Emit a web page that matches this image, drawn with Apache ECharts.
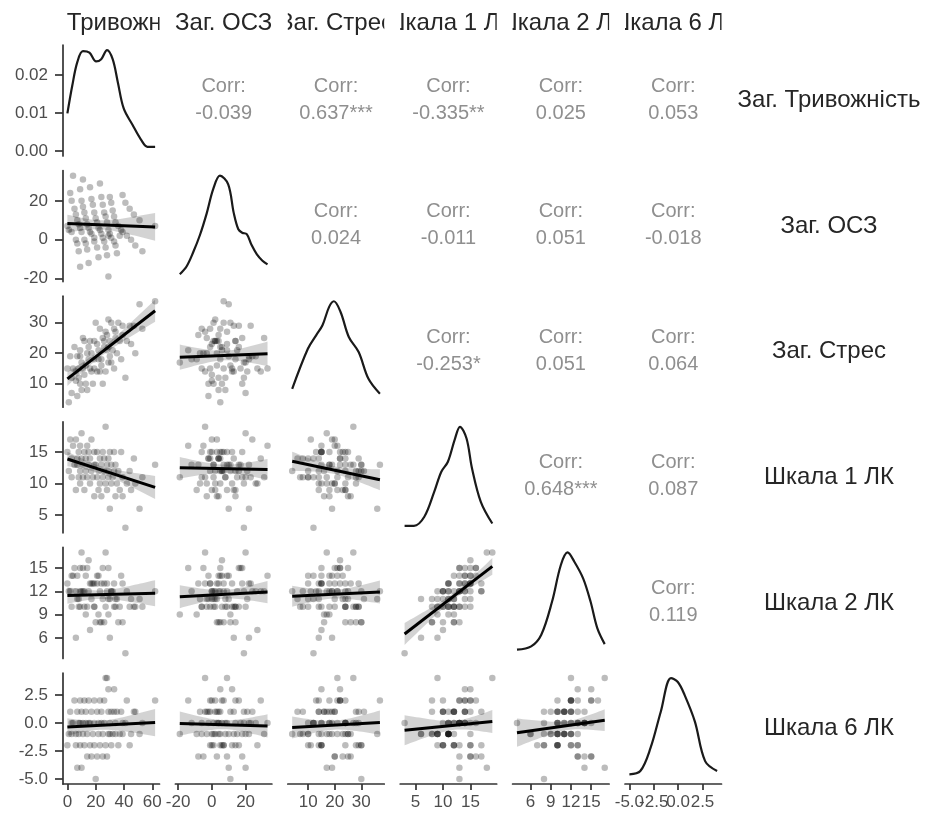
<!DOCTYPE html>
<html>
<head>
<meta charset="utf-8">
<script src="https://cdn.jsdelivr.net/npm/echarts@6.0.0/dist/echarts.min.js"></script>
<style>
html, body { margin: 0; padding: 0; background: #fff; }
#chart { width: 929px; height: 814px; }
</style>
</head>
<body>
<div id="chart"></div>
<script>
;(function () {
    "use strict";

    var labels = ["Заг. Тривожність", "Заг. ОСЗ", "Заг. Стрес", "Шкала 1 ЛК", "Шкала 2 ЛК", "Шкала 6 ЛК"];

    // one row per respondent
    var anxiety = [0,1,2,3,3,4,5,6,6,7,7,8,8,9,9,9,10,10,11,11,12,12,13,13,14,14,15,15,16,16,17,17,18,19,19,19,20,21,21,22,22,23,23,24,24,25,25,26,26,27,27,28,28,29,29,29,30,30,31,31,32,33,33,34,34,35,36,37,38,39,39,41,42,44,45,47,48,51,53,62];
    var osz = [7,5,24,4,20,33,16,0,13,-2,10,-6,8,-14,6,26,4,20,31,17,0,14,-2,11,-5,8,-12,6,27,4,21,3,18,1,14,-1,11,-4,9,-9,6,29,5,22,3,18,1,14,-1,12,-4,9,-8,-19,2,5,22,3,19,1,15,-1,12,-3,9,-7,7,2,5,23,4,19,2,16,0,13,-3,10,-6,7];
    var stress = [15,4,19,12,7,15,22,11,14,6,19,15,12,21,10,19,8,17,25,15,13,24,10,16,20,8,18,22,15,24,14,20,10,24,18,15,30,14,23,18,21,14,28,18,16,25,10,24,22,14,27,21,26,17,31,22,19,24,17,30,21,28,15,25,27,20,30,24,18,29,26,12,24,29,23,29,20,36,28,37];
    var scale1 = [15,12,17,14,11,16,13,17,9,14,13,15,11,16,12,10,14,18,11,13,15,9,14,12,16,11,13,15,10,14,12,17,11,13,8,15,13,11,15,9,12,14,10,13,8,15,11,12,14,10,19,9,13,11,12,14,6,15,10,13,11,12,15,8,13,10,12,9,15,11,8,3,10,12,9,14,10,6,11,13];
    var scale2 = [13,12,12,14,10,14,15,12,6,11,14,10,11,15,10,12,12,17,12,15,12,10,14,9,15,10,12,16,7,13,11,13,13,10,10,13,8,13,14,9,14,12,8,13,8,15,11,8,13,10,17,12,13,9,11,15,6,11,12,12,12,10,13,11,10,11,8,10,14,13,8,4,12,10,11,10,10,11,10,12];
    var scale6 = [-2,-1,1,0,-1,0,2,-2,-1,1,-4,-1,0,2,-2,0,1,-4,-1,0,2,-2,0,1,-3,-1,0,2,-2,0,1,-3,-1,0,2,-2,-5,1,-3,-1,0,2,-2,0,1,-3,-1,0,2,-2,4,4,-3,-1,1,3,-1,0,1,-2,-1,1,3,-1,0,1,-2,-1,1,0,-1,0,2,-2,-1,1,1,-1,0,2];

    // density curves on the diagonal: [value, density]
    var densAnxiety = [[0,0.0099],[3.5,0.0173],[7,0.0234],[11,0.0263],[15.6,0.0259],[20.3,0.0236],[23.9,0.0242],[28,0.0266],[32,0.0242],[35.6,0.0182],[39.8,0.0112],[46,0.0069],[52,0.0030],[56.6,0.0011],[62,0.0011]];
    var densOsz = [[-19,0.0008],[-15,0.0035],[-11,0.0085],[-7,0.0145],[-3,0.022],[0.8,0.0303],[4.8,0.035],[9.7,0.032],[13,0.022],[15.7,0.0164],[18,0.0152],[20.7,0.0147],[23.5,0.011],[26.7,0.0077],[30,0.0055],[33,0.0042]];
    var densStress = [[4,0.0073],[9.9,0.0293],[13,0.0367],[15.4,0.0422],[17.9,0.0523],[19.7,0.0554],[22.2,0.0495],[25.3,0.0358],[29,0.0275],[32.7,0.0128],[37,0.0046]];
    var densScale1 = [[3,0.0027],[4.7,0.0027],[6.6,0.0153],[8.4,0.0498],[9.7,0.0777],[10.9,0.0916],[12.2,0.1238],[13.1,0.14],[14.3,0.1238],[15.3,0.0822],[16.9,0.036],[19,0.0059]];
    var densScale2 = [[4,0.0052],[6.1,0.0098],[7.6,0.0262],[9.2,0.0728],[10.5,0.1242],[11.5,0.1418],[12.5,0.1288],[13.8,0.1054],[14.9,0.0728],[15.9,0.0354],[17,0.013]];
    var densScale6 = [[-5,0.0092],[-3.88,0.0158],[-2.83,0.062],[-1.78,0.1346],[-0.73,0.202],[-0.03,0.194],[0.67,0.1678],[1.72,0.1148],[2.77,0.0356],[4,0.0158]];

    var ticks = [[0,20,40,60],[-20,0,20],[10,20,30],[5,10,15],[6,9,12,15],[-5,-2.5,0,2.5]];
    var densityTicks = [0, 0.01, 0.02];

    // upper triangle, row by row
    var corrValues = [-0.039, 0.637, -0.335, 0.025, 0.053, 0.024, -0.011, 0.051, -0.018, -0.253, 0.051, 0.064, 0.648, 0.087, 0.119];
    var corrStars = ["", "***", "**", "", "", "", "", "", "", "*", "", "", "***", "", ""];

    // lm lines: [row, col, y at smallest x, y at largest x]
    var fitLines = [
        [1,0,8.3,6.6],
        [2,0,11.6,33.9],[2,1,18.7,19.8],
        [3,0,13.9,9.4],[3,1,12.5,12.25],[3,2,13.55,10.6],
        [4,0,11.45,11.75],[4,1,11.3,11.9],[4,2,11.35,11.9],[4,3,6.5,15.2],
        [5,0,-0.36,0.03],[5,1,-0.06,-0.27],[5,2,-0.42,0.03],[5,3,-0.65,0.12],[5,4,-0.87,0.24]
    ];

    var columns = [anxiety, osz, stress, scale1, scale2, scale6];
    var densities = [densAnxiety, densOsz, densStress, densScale1, densScale2, densScale6];

    var FONT = '"Liberation Sans", Arial, sans-serif';
    var L0 = 63, DX = 112.4, PW = 96.5, T0 = 45, DY = 125.6, PH = 111;
    var n = anxiety.length;

    function minOf(a) { return Math.min.apply(null, a); }
    function maxOf(a) { return Math.max.apply(null, a); }
    function mean(a) { return a.reduce(function (s, v) { return s + v; }, 0) / a.length; }
    function sdev(a) {
        var m = mean(a);
        return Math.sqrt(a.reduce(function (s, v) { return s + (v - m) * (v - m); }, 0) / a.length);
    }

    // ggplot style 5% padding
    var lims = columns.map(function (a) {
        var lo = minOf(a), hi = maxOf(a), p = (hi - lo) * 0.05;
        return [lo - p, hi + p];
    });

    var corrAt = {};
    var k = 0;
    for (var r0 = 0; r0 < 6; r0++) {
        for (var c0 = r0 + 1; c0 < 6; c0++) {
            corrAt[r0 + "," + c0] = [corrValues[k], corrStars[k]];
            k++;
        }
    }

    function fmtFor(i) {
        if (i === 5) return function (v) { return v.toFixed(1); };
        return function (v) { return String(v); };
    }

    function makeAxis(g, lim, show, tickVals, formatter, isY) {
        return {
            gridIndex: g, type: "value", min: lim[0], max: lim[1], show: show,
            axisLine: { show: true, onZero: false, lineStyle: { color: "#333", width: 1.7 } },
            axisTick: { show: true, length: isY ? 8 : 6, customValues: tickVals, lineStyle: { color: "#333", width: 1.7 } },
            // bottom labels are drawn by a label-only series so crowded ones are not dropped
            axisLabel: {
                show: isY, customValues: tickVals, formatter: formatter, color: "#4d4d4d",
                fontSize: 17, fontFamily: FONT, margin: 15
            },
            splitLine: { show: false }
        };
    }

    var grids = [], xAxes = [], yAxes = [], series = [], graphics = [];

    function bandSeries(g, bandPts) {
        return {
            type: "custom", xAxisIndex: g, yAxisIndex: g, silent: true,
            data: bandPts, encode: { x: 0, y: [1, 2] },
            renderItem: function (params, api) {
                if (params.dataIndex !== 0) return;
                var pts = [];
                var i;
                for (i = 0; i < bandPts.length; i++) pts.push(api.coord([bandPts[i][0], bandPts[i][2]]));
                for (i = bandPts.length - 1; i >= 0; i--) pts.push(api.coord([bandPts[i][0], bandPts[i][1]]));
                return { type: "polygon", shape: { points: pts }, style: { fill: "rgba(150,150,150,0.42)" } };
            }
        };
    }

    function bottomLabels(g, c, yBottom) {
        var f = fmtFor(c);
        var vals = ticks[c];
        return {
            type: "custom", xAxisIndex: g, yAxisIndex: g, silent: true, clip: false,
            data: vals.map(function (v) { return [v, yBottom]; }),
            encode: { x: 0, y: 1 },
            renderItem: function (params, api) {
                var p = api.coord([api.value(0), api.value(1)]);
                return {
                    type: "text",
                    style: {
                        text: f(vals[params.dataIndex]), x: p[0], y: p[1] + 10,
                        align: "center", verticalAlign: "top", textAlign: "center", textVerticalAlign: "top",
                        fill: "#4d4d4d", fontSize: 17, fontFamily: FONT
                    }
                };
            }
        };
    }

    var fitAt = {};
    fitLines.forEach(function (f) { fitAt[f[0] + "," + f[1]] = [f[2], f[3]]; });

    for (var r = 0; r < 6; r++) {
        for (var c = 0; c <= r; c++) {
            var g = grids.length;
            var yLim;
            grids.push({ left: L0 + c * DX, top: T0 + r * DY, width: PW, height: PH, outerBoundsMode: "none" });
            xAxes.push(makeAxis(g, lims[c], r === 5, ticks[c], fmtFor(c), false));
            if (r === c) {
                var dens = densities[r];
                var top = maxOf(dens.map(function (d) { return d[1]; }));
                yLim = [-0.05 * top, 1.05 * top];
                yAxes.push(makeAxis(g, yLim, c === 0, densityTicks, function (v) { return v.toFixed(2); }, true));
                series.push({
                    type: "line", xAxisIndex: g, yAxisIndex: g, data: dens, smooth: 0.35,
                    symbol: "none", silent: true, lineStyle: { color: "#1a1a1a", width: 2.2 }
                });
            } else {
                yLim = lims[r];
                yAxes.push(makeAxis(g, yLim, c === 0, ticks[r], fmtFor(r), true));
                var xs = columns[c], ys = columns[r];
                series.push({
                    type: "scatter", xAxisIndex: g, yAxisIndex: g, silent: true,
                    data: xs.map(function (v, i) { return [v, ys[i]]; }),
                    symbolSize: 6.5, itemStyle: { color: "rgba(0,0,0,0.33)" }
                });
                var fit = fitAt[r + "," + c];
                var x0 = minOf(xs), x1 = maxOf(xs);
                var mx = mean(xs), sx = sdev(xs);
                var rr = corrAt[c + "," + r][0];
                var h0 = 1.99 * sdev(ys) * Math.sqrt(1 - rr * rr) / Math.sqrt(n);
                var band = [];
                for (var s = 0; s <= 30; s++) {
                    var x = x0 + (x1 - x0) * s / 30;
                    var yc = fit[0] + (fit[1] - fit[0]) * (x - x0) / (x1 - x0);
                    var h = h0 * Math.sqrt(1 + Math.pow((x - mx) / sx, 2));
                    band.push([x, yc - h, yc + h]);
                }
                series.push(bandSeries(g, band));
                series.push({
                    type: "line", xAxisIndex: g, yAxisIndex: g, silent: true, symbol: "none",
                    data: [[x0, fit[0]], [x1, fit[1]]],
                    lineStyle: { color: "#000", width: 3 }
                });
            }
            if (r === 5) series.push(bottomLabels(g, c, yLim[0]));
        }
    }

    // correlation text in the upper triangle
    for (var ru = 0; ru < 6; ru++) {
        for (var cu = ru + 1; cu < 6; cu++) {
            var cv = corrAt[ru + "," + cu];
            graphics.push({
                type: "text", silent: true,
                x: L0 + cu * DX + PW / 2, y: T0 + ru * DY + PH / 2 - 1,
                style: {
                    text: "Corr:\n" + cv[0].toFixed(3) + cv[1],
                    align: "center", verticalAlign: "middle", textAlign: "center", textVerticalAlign: "middle",
                    fill: "#8f8f8f", fontSize: 20, fontFamily: FONT, lineHeight: 27
                }
            });
        }
    }

    // row strips on the right
    labels.forEach(function (lab, i) {
        graphics.push({
            type: "text", silent: true,
            x: 829, y: T0 + i * DY + PH / 2,
            style: {
                text: lab, align: "center", verticalAlign: "middle", textAlign: "center", textVerticalAlign: "middle",
                fill: "#262626", fontSize: 24, fontFamily: FONT
            }
        });
    });

    // column strips on top, clipped to the panel width like ggplot does
    series.push({
        type: "custom", coordinateSystem: "none", silent: true,
        data: labels.map(function (lab, i) { return i; }),
        renderItem: function (params) {
            var i = params.dataIndex;
            var left = L0 + i * DX;
            return {
                type: "text",
                style: {
                    text: labels[i], x: left + PW / 2, y: 23,
                    align: "center", verticalAlign: "middle", textAlign: "center", textVerticalAlign: "middle",
                    fill: "#262626", fontSize: 24, fontFamily: FONT
                },
                clipPath: { type: "rect", shape: { x: left, y: 0, width: PW, height: 44 } }
            };
        }
    });

    var chart = echarts.init(document.getElementById("chart"));
    chart.setOption({
        animation: false,
        backgroundColor: "#fff",
        textStyle: { fontFamily: FONT },
        grid: grids,
        xAxis: xAxes,
        yAxis: yAxes,
        series: series,
        graphic: { elements: graphics }
    });
})();
</script>
</body>
</html>
